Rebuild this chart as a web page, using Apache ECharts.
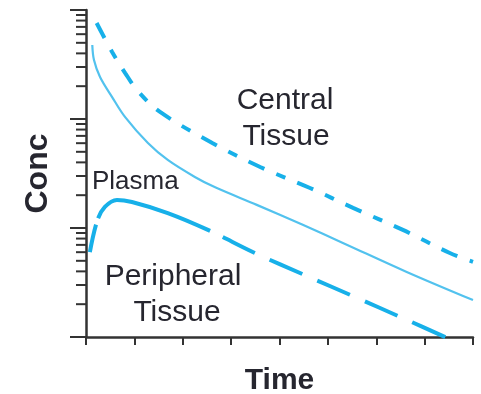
<!DOCTYPE html>
<html>
<head>
<meta charset="utf-8">
<script src="https://cdn.jsdelivr.net/npm/echarts@6/dist/echarts.min.js"></script>
<style>
  html, body { margin: 0; padding: 0; background: #fff; }
  #chart { width: 481px; height: 394px; }
</style>
</head>
<body>
<div id="chart"></div>
<script>
// Concentration–time profiles (log scale) for three compartments
const centralTime   = [0.22, 0.54, 0.81, 1.07, 1.53, 2.62, 3.60, 4.63, 5.52, 6.55, 7.52, 8.0];
const centralConc   = [76, 41.2, 26.4, 18.1, 11.6, 6.0, 3.63, 2.33, 1.53, 0.96, 0.59, 0.49];

const plasmaTime    = [0.13, 0.165, 0.29, 0.54, 0.81, 1.28, 1.69, 2.25, 2.67, 3.53, 4.48, 5.31, 6.63, 8.0];
const plasmaConc    = [47.8, 34.8, 24.3, 15.9, 10.4, 6.02, 4.21, 2.94, 2.36, 1.63, 1.07, 0.73, 0.395, 0.218];

const peripheralTime = [0.08, 0.23, 0.39, 0.64, 0.95, 1.69, 2.52, 3.49, 4.52, 5.56, 6.55, 7.56];
const peripheralConc = [0.60, 1.16, 1.56, 1.81, 1.73, 1.37, 0.96, 0.59, 0.37, 0.233, 0.149, 0.094];

// Minor tick positions on the logarithmic concentration axis
const minorTicks = [0.2, 0.3, 0.4, 0.5, 0.6, 0.7, 0.8, 0.9,
                    2, 3, 4, 5, 6, 7, 8, 9,
                    20, 30, 40, 50, 60, 70, 80, 90];

const zip = (xs, ys) => xs.map((x, i) => [x, ys[i]]);

const AXIS = '#333333';
const BLUE = '#17B0E9';
const LIGHT = '#52C2EE';
const TEXT = '#26262f';
const FONT = '"Liberation Sans", Arial, sans-serif';

const chart = echarts.init(document.getElementById('chart'), null, { renderer: 'canvas' });

chart.setOption({
  animation: false,
  backgroundColor: '#ffffff',
  grid: { left: 86, right: 8, top: 10, bottom: 57, containLabel: false, outerBoundsMode: 'none' },
  xAxis: {
    type: 'value', min: 0, max: 8, interval: 1,
    name: 'Time', nameLocation: 'middle', nameGap: 29,
    nameTextStyle: { fontFamily: FONT, fontSize: 30, fontWeight: 'bold', color: TEXT },
    axisLine: { lineStyle: { color: AXIS, width: 2.5 } },
    axisTick: { show: true, length: 8, lineStyle: { color: AXIS, width: 2 } },
    axisLabel: { show: false },
    splitLine: { show: false }
  },
  yAxis: {
    type: 'log', logBase: 10, min: 0.1, max: 100,
    name: 'Conc', nameLocation: 'middle', nameGap: 32,
    nameTextStyle: { fontFamily: FONT, fontSize: 32, fontWeight: 'bold', color: TEXT },
    axisLine: { show: true, lineStyle: { color: AXIS, width: 2.5 } },
    axisTick: { show: true, length: 16, lineStyle: { color: AXIS, width: 2 } },
    axisLabel: { show: false },
    splitLine: { show: false },
    minorTick: { show: false }
  },
  series: [
    {
      name: 'Central Tissue', type: 'line', data: zip(centralTime, centralConc),
      smooth: 0.35, showSymbol: false, clip: true,
      lineStyle: { color: BLUE, width: 4, type: [17, 13, 10, 13], cap: 'butt' }
    },
    {
      name: 'Plasma', type: 'line', data: zip(plasmaTime, plasmaConc),
      smooth: 0.35, showSymbol: false, clip: true,
      lineStyle: { color: LIGHT, width: 2.2 }
    },
    {
      // last dash runs just past the time axis
      name: 'Peripheral Tissue', type: 'line', data: zip(peripheralTime, peripheralConc),
      smooth: 0.35, showSymbol: false, clip: false,
      lineStyle: { color: BLUE, width: 4, cap: 'butt',
        type: [28, 7, 126, 14, 36, 16, 36, 16, 36, 16, 36, 16, 36, 16, 36, 16] }
    },
    {
      // short minor ticks at 2..9 × each decade
      type: 'custom', silent: true, clip: false, z: 5,
      data: minorTicks.map(v => [0, v]),
      encode: { x: 0, y: 1 },
      renderItem: function (params, api) {
        const p = api.coord([api.value(0), api.value(1)]);
        return {
          type: 'line',
          shape: { x1: p[0] - 10, y1: p[1], x2: p[0], y2: p[1] },
          style: { stroke: AXIS, lineWidth: 2 }
        };
      }
    }
  ],
  graphic: [
    { type: 'text', x: 285, y: 101, style: { text: 'Central', font: '30px ' + FONT, fill: TEXT, align: 'center', verticalAlign: 'middle' } },
    { type: 'text', x: 286, y: 137, style: { text: 'Tissue', font: '30px ' + FONT, fill: TEXT, align: 'center', verticalAlign: 'middle' } },
    { type: 'text', x: 92, y: 182, style: { text: 'Plasma', font: '26px ' + FONT, fill: TEXT, align: 'left', verticalAlign: 'middle' } },
    { type: 'text', x: 173, y: 277, style: { text: 'Peripheral', font: '30px ' + FONT, fill: TEXT, align: 'center', verticalAlign: 'middle' } },
    { type: 'text', x: 177, y: 313, style: { text: 'Tissue', font: '30px ' + FONT, fill: TEXT, align: 'center', verticalAlign: 'middle' } }
  ]
});
</script>
</body>
</html>
